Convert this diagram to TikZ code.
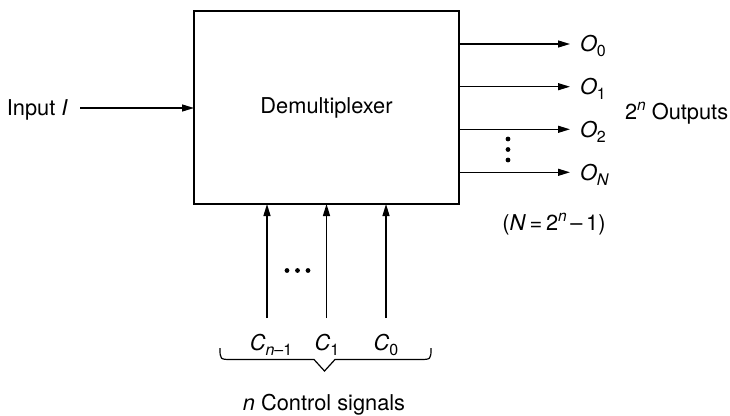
\documentclass[tikz,border=0pt]{standalone}
\usepackage{fontspec}
\setmainfont{TeX Gyre Heros}
\usetikzlibrary{arrows.meta}
\newcommand\lsub[1]{\raisebox{-0.24em}{\fontsize{16}{16}\selectfont #1}}
\newcommand\lsup[1]{\raisebox{0.42em}{\fontsize{15.5}{16}\selectfont #1}}
\begin{document}
\begin{tikzpicture}[x=1pt,y=-1pt, font=\fontsize{21.8}{25}\selectfont, line width=1.3pt,
  conn/.style={-{Triangle[length=12pt,width=7pt]}},
  lbl/.style={inner sep=0pt, outer sep=0pt},
  dotmark/.style={circle,fill,inner sep=0pt,minimum size=4.8pt}]
\useasboundingbox (0,0) rectangle (730,415);
% block
\node[draw, line width=1.6pt, minimum width=265pt, minimum height=193pt, inner sep=0pt, outer sep=0pt] (demux) at (326.5,107.5) {Demultiplexer};
% input
\node[lbl, anchor=base east] (inp) at (68,115.7) {Input \textit{I}};
\coordinate (instart) at (80,108);
\draw[conn] (instart) -- (instart -| demux.west);
% outputs
\coordinate (t0) at (570,44);
\coordinate (t1) at (570,86.7);
\coordinate (t2) at (570,129.3);
\coordinate (tN) at (570,172.3);
\draw[conn] (demux.east |- t0) -- (t0);
\draw[conn] (demux.east |- t1) -- (t1);
\draw[conn] (demux.east |- t2) -- (t2);
\draw[conn] (demux.east |- tN) -- (tN);
\node[lbl, anchor=base west] (O0) at (580,51.7) {\textit{O}\lsub{0}};
\node[lbl, anchor=base west] (O1) at (580,94.4) {\textit{O}\lsub{1}};
\node[lbl, anchor=base west] (O2) at (580,137) {\textit{O}\lsub{2}};
\node[lbl, anchor=base west] (ON) at (580,180) {\textit{O}\lsub{\textit{N}}};
\node[dotmark] (vd1) at (508,139) {};
\node[dotmark] (vd2) at (508,149.5) {};
\node[dotmark] (vd3) at (508,160) {};
\node[lbl, anchor=base west] (outs) at (625,119.7) {2\lsup{\textit{n}} Outputs};
\node[lbl, anchor=base] (eqn) at (554,230.7) {(\textit{N}\,=\,2\lsup{\textit{n}}\,–\,1)};
% control lines
\coordinate (c2) at (267,318);
\coordinate (c1) at (326.5,318);
\coordinate (c0) at (386,318);
\draw[conn] (c2) -- (c2 |- demux.south);
\draw[conn] (c1) -- (c1 |- demux.south);
\draw[conn] (c0) -- (c0 |- demux.south);
\node[dotmark] (hd1) at (287,270.5) {};
\node[dotmark] (hd2) at (297.5,270.5) {};
\node[dotmark] (hd3) at (308,270.5) {};
\node[lbl, anchor=base] (Cn) at (271,350.7) {\textit{C}\lsub{\textit{n}–1}};
\node[lbl, anchor=base] (C1) at (327,350.7) {\textit{C}\lsub{1}};
\node[lbl, anchor=base] (C0) at (386,350.7) {\textit{C}\lsub{0}};
% brace
\draw[line width=1.2pt] (220,348) .. controls (220,359.5) .. (232,359.5) -- (314,359.5) -- (324.5,371) -- (335,359.5) -- (419,359.5) .. controls (431,359.5) .. (431,348);
\node[lbl, anchor=base] (ctl) at (324,410) {\textit{n} Control signals};
\end{tikzpicture}
\end{document}
